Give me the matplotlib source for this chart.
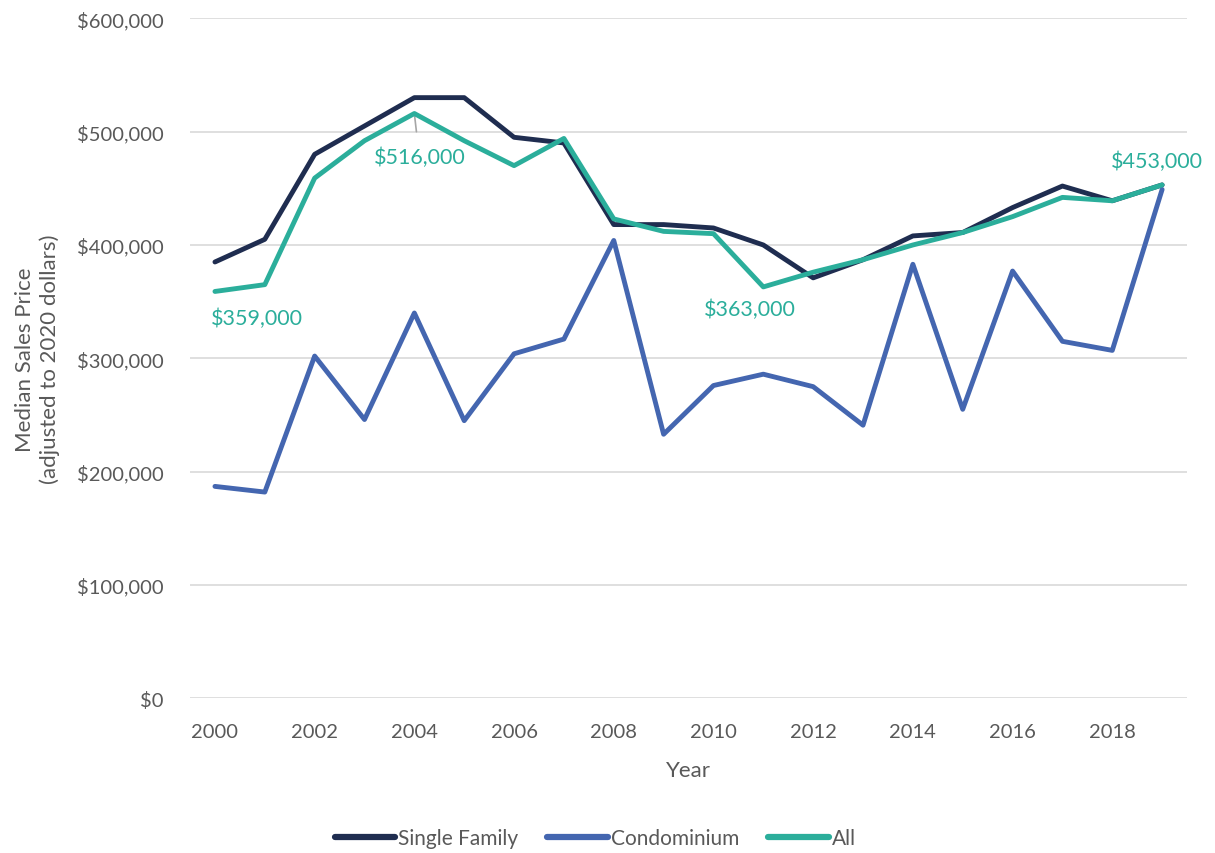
import matplotlib
matplotlib.use("Agg")
import matplotlib.pyplot as plt
from matplotlib.ticker import FuncFormatter, MultipleLocator

plt.rcParams['font.family'] = ['Lato', 'DejaVu Sans']

years = list(range(2000, 2020))
single_family = [385000, 405000, 480000, 505000, 530000, 530000, 495000, 490000, 418000, 418000,
                 415000, 400000, 371000, 387000, 408000, 411000, 433000, 452000, 439000, 453000]
condominium = [187000, 182000, 302000, 246000, 340000, 245000, 304000, 317000, 404000, 233000,
               276000, 286000, 275000, 241000, 383000, 255000, 377000, 315000, 307000, 449000]
all_homes = [359000, 365000, 459000, 492000, 516000, 492000, 470000, 494000, 423000, 412000,
             410000, 363000, 376000, 387000, 400000, 411000, 425000, 442000, 439000, 453000]
series_names = ["Single Family", "Condominium", "All"]
tick_years = [str(y) for y in years[::2]]

c_sf = "#1F2D50"
c_condo = "#4466B0"
c_all = "#2BAE9B"
txt = "#595959"

fig = plt.figure(figsize=(12.15, 8.54), dpi=100)
ax = fig.add_axes([0.1564, 0.1811, 0.8206, 0.7963])

x = list(range(len(years)))
ax.plot(x, single_family, color=c_sf, lw=3.5, label=series_names[0], solid_capstyle='round', zorder=3)
ax.plot(x, condominium, color=c_condo, lw=3.5, label=series_names[1], solid_capstyle='round', zorder=4)
ax.plot(x, all_homes, color=c_all, lw=3.5, label=series_names[2], solid_capstyle='round', zorder=5)

ax.set_xlim(-0.5, len(years) - 0.5)
ax.set_ylim(0, 600000)
ax.yaxis.set_major_locator(MultipleLocator(100000))
ax.yaxis.set_major_formatter(FuncFormatter(lambda v, p: f"${v:,.0f}"))
ax.set_xticks(x[::2])
ax.set_xticklabels(tick_years)
ax.grid(axis='y', color='#D9D9D9', lw=1.2)
ax.set_axisbelow(True)
for s in ax.spines.values():
    s.set_visible(False)
ax.tick_params(length=0, labelsize=14.5, colors=txt)
ax.tick_params(axis='x', pad=18)
ax.tick_params(axis='y', pad=19)

ax.set_xlabel("Year", fontsize=16, color=txt, labelpad=14)
ax.set_ylabel("Median Sales Price\n(adjusted to 2020 dollars)", fontsize=16, color=txt, labelpad=12,
              linespacing=1.3)

# data labels for All
ax.annotate("$359,000", xy=(0, all_homes[0]), xytext=(0.85, 335500),
            ha='center', va='center', color=c_all, fontsize=15.5)
ax.annotate("$516,000", xy=(4, all_homes[4]), xytext=(4.1, 477500),
            ha='center', va='center', color=c_all, fontsize=15.5,
            arrowprops=dict(arrowstyle='-', color='#A6A6A6', lw=1.2, shrinkA=9, shrinkB=0))
ax.annotate("$363,000", xy=(11, all_homes[11]), xytext=(10.73, 344000),
            ha='center', va='center', color=c_all, fontsize=15.5)
ax.annotate("$453,000", xy=(19, all_homes[19]), xytext=(18.9, 474000),
            ha='center', va='center', color=c_all, fontsize=15.5)

leg = fig.legend(loc='center', bbox_to_anchor=(0.49, 0.017), ncol=3, frameon=False,
                 fontsize=15, handlelength=2.9, handletextpad=0.15, columnspacing=1.4)
for t in leg.get_texts():
    t.set_color(txt)
for h in leg.get_lines():
    h.set_linewidth(4.5)

fig.savefig("out.png", dpi=100)
